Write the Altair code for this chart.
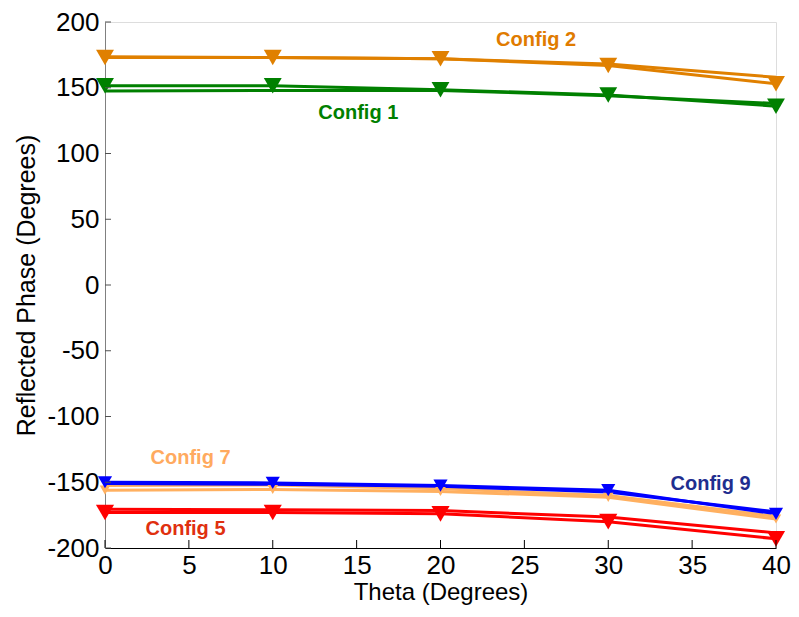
import altair as alt
import pandas as pd

theta = [0, 10, 20, 30, 40]

c2_marker = [173, 173, 172, 167, 153]
c2_plain = [173.5, 173, 172, 168, 158]
c1_marker = [151.5, 151.5, 148.5, 144.5, 136]
c1_plain = [147.5, 148, 148, 144, 138]
c7_marker = [-156, -155.5, -157, -161.5, -178]
c7_plain = [-152.5, -152, -155, -160, -176]
c9_marker = [-150, -150.5, -152.5, -156, -174]
c9_plain = [-151, -151.5, -153, -157.5, -172.5]
c5_marker = [-173, -173, -174, -180, -193]
c5_plain = [-170.5, -171, -171.5, -176.5, -188.5]

series_names = ["Config 2", "Config 1", "Config 7", "Config 9", "Config 5"]
series_marker = [c2_marker, c1_marker, c7_marker, c9_marker, c5_marker]
series_plain = [c2_plain, c1_plain, c7_plain, c9_plain, c5_plain]
line_colors = ["#E08000", "#008000", "#FFB060", "#0000FF", "#FF0000"]
marker_sizes = [320, 320, 110, 200, 330]

label_text = ["Config 2", "Config 1", "Config 7", "Config 9", "Config 5"]
label_x = [25.7, 15.1, 5.1, 36.1, 4.8]
label_y = [186, 130.7, -131.4, -151.2, -185.5]
label_colors = ["#E07B00", "#008000", "#FFAA5F", "#1F2E8F", "#E0300F"]

x_ticks = [0, 5, 10, 15, 20, 25, 30, 35, 40]
y_ticks = [-200, -150, -100, -50, 0, 50, 100, 150, 200]

W, H = 671, 526
FONT = "Liberation Sans"

xscale = alt.Scale(domain=[0, 40], nice=False, zero=False)
yscale = alt.Scale(domain=[-200, 200], nice=False, zero=False)

rows = []
for name, mk, pl in zip(series_names, series_marker, series_plain):
    for t, v in zip(theta, pl):
        rows.append({"theta": t, "phase": v, "series": name + " plain", "cfg": name})
    for t, v in zip(theta, mk):
        rows.append({"theta": t, "phase": v, "series": name + " marker", "cfg": name})
df = pd.DataFrame(rows)

series_domain = []
series_range = []
for name, c in zip(series_names, line_colors):
    series_domain += [name + " plain", name + " marker"]
    series_range += [c, c]

x_enc = alt.X("theta:Q", scale=xscale,
              axis=alt.Axis(values=x_ticks, ticks=False, grid=False, domainColor="#000000",
                            domainWidth=1, labelFontSize=26, labelFont=FONT, labelColor="#000000",
                            labelPadding=4, labelFlush=False, labelExpr="'' + datum.value",
                            title="Theta (Degrees)", titleFontSize=24,
                            titleFont=FONT, titleFontWeight="normal", titleColor="#000000",
                            titlePadding=2))
y_enc = alt.Y("phase:Q", scale=yscale,
              axis=alt.Axis(values=y_ticks, ticks=False, grid=False, domainColor="#808080",
                            domainWidth=1, labelFontSize=26, labelFont=FONT, labelColor="#000000",
                            labelPadding=6, labelFlush=False, labelExpr="'' + datum.value",
                            title="Reflected Phase (Degrees)", titleFontSize=25,
                            titleFont=FONT, titleFontWeight="normal", titleColor="#000000",
                            titlePadding=7))

color_enc = alt.Color("series:N", scale=alt.Scale(domain=series_domain, range=series_range), legend=None)

lines = alt.Chart(df).mark_line(strokeWidth=3, clip=False).encode(
    x=x_enc, y=y_enc, color=color_enc, detail="series:N"
)

layers = [lines]
for name, c, s in zip(series_names, line_colors, marker_sizes):
    sub = df[df["series"] == name + " marker"]
    pts = alt.Chart(sub).mark_point(shape="triangle-down", filled=True, opacity=1,
                                    size=s, color=c, strokeWidth=0).encode(
        x=alt.X("theta:Q", scale=xscale), y=alt.Y("phase:Q", scale=yscale))
    layers.append(pts)

lab_df = pd.DataFrame({"text": label_text, "x": label_x, "y": label_y, "color": label_colors})
labels = alt.Chart(lab_df).mark_text(font=FONT, fontSize=20, fontWeight="bold",
                                     align="center", baseline="middle").encode(
    x=alt.X("x:Q", scale=xscale), y=alt.Y("y:Q", scale=yscale),
    text="text:N", color=alt.Color("color:N", scale=None))
layers.append(labels)

xt = pd.DataFrame({"v": x_ticks})
yt = pd.DataFrame({"v": y_ticks})
xtick_rules = alt.Chart(xt).mark_rule(color="#000000", strokeWidth=1).encode(
    x=alt.X("v:Q", scale=xscale), y=alt.value(H), y2=alt.value(H - 8))
ytick_rules = alt.Chart(yt).mark_rule(color="#505050", strokeWidth=1).encode(
    y=alt.Y("v:Q", scale=yscale), x=alt.value(0), x2=alt.value(6))
layers += [xtick_rules, ytick_rules]

chart = alt.layer(*layers).resolve_scale(color="independent").properties(
    width=W, height=H,
    autosize=alt.AutoSizeParams(type="none"),
    padding={"left": 97, "top": 14, "right": 15, "bottom": 60},
).configure_view(stroke=None).configure(background="#ffffff")

chart.save("out.html", embed_options={"renderer": "svg", "actions": False})
